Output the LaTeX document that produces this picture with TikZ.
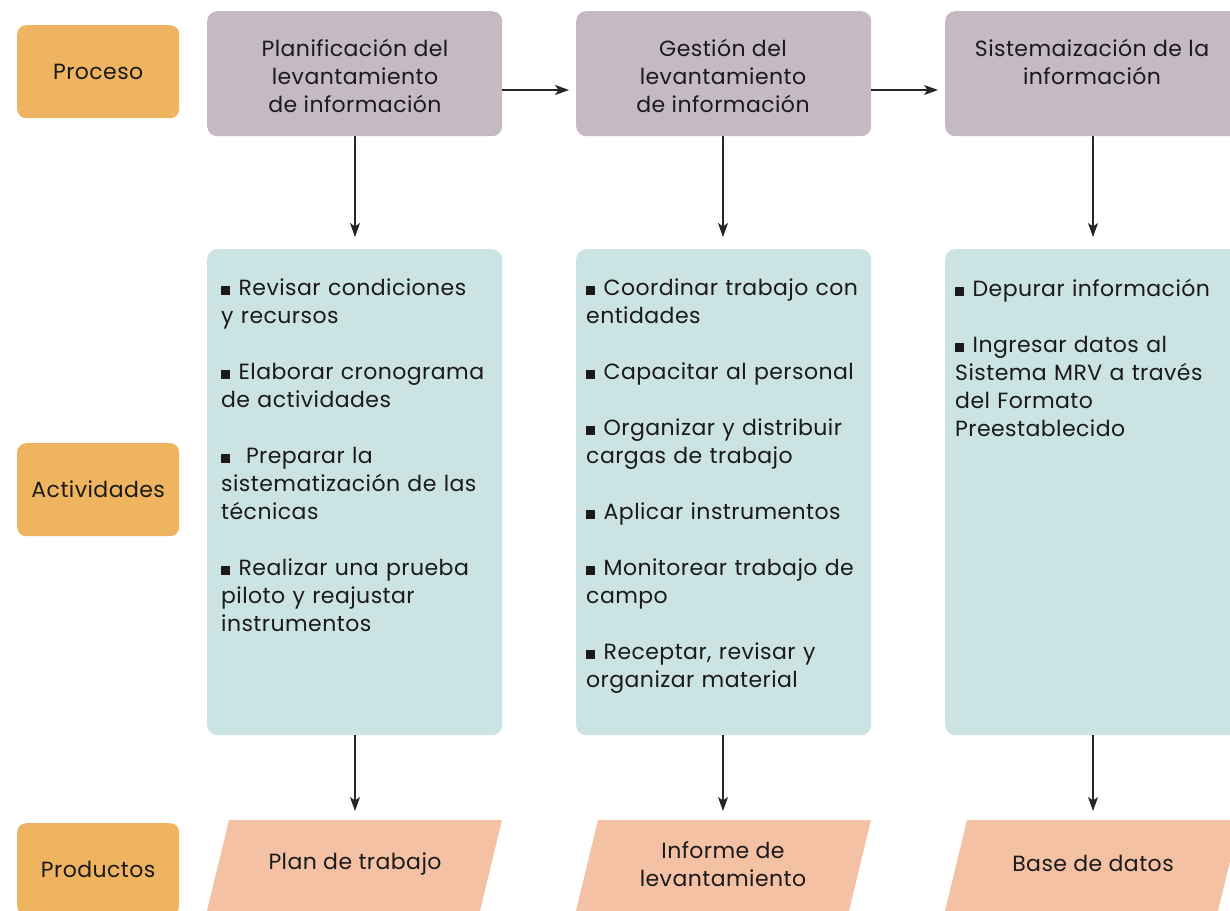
\documentclass[tikz,border=0pt]{standalone}
\usepackage{fontspec}
\setmainfont{Poppins}[LetterSpace=2]
\usetikzlibrary{arrows.meta,positioning,calc}
\definecolor{labelc}{HTML}{EEB460}
\definecolor{procc}{HTML}{C5B9C3}
\definecolor{actc}{HTML}{CBE3E2}
\definecolor{prodc}{HTML}{F5C1A5}
\definecolor{txtc}{HTML}{1A1A1A}
\newcommand{\bul}{\raisebox{1pt}{\rule{8.5pt}{8.5pt}}\hspace{9pt}}
\begin{document}
\begin{tikzpicture}[x=1pt,y=-1pt,
  every node/.style={text=txtc,font=\fontsize{22}{28}\selectfont,inner sep=0pt},
  labelbox/.style={fill=labelc,rounded corners=9pt,minimum width=162pt,anchor=north west},
  procbox/.style={fill=procc,rounded corners=10pt,minimum width=295pt,minimum height=125pt,anchor=north west},
  actbox/.style={fill=actc,rounded corners=10pt,minimum width=295pt,minimum height=486pt,anchor=north west},
  acttext/.style={align=left,anchor=north west,text width=285pt},
  conn/.style={draw=black!85,line width=1.1pt,-{Stealth[length=14pt,width=10pt,inset=3.5pt]}}
]
\useasboundingbox (0,0) rectangle (1230,910);
% row labels
\node[labelbox,minimum height=93pt] (lproc) at (17,25) {Proceso};
\node[labelbox,minimum height=93pt] (lact) at (17,443) {Actividades};
\node[labelbox,minimum height=92pt] (lprod) at (17,823) {Productos};
% process boxes
\node[procbox] (p1) at (207,11) {};
\node[align=center,anchor=north] (p1t) at (355,39) {Planificación del\\levantamiento\\de información};
\node[procbox] (p2) at (576,11) {};
\node[align=center,anchor=north] (p2t) at (723,39) {Gestión del\\levantamiento\\de información};
\node[procbox,minimum width=300pt] (p3) at (945,11) {};
\node[align=center,anchor=north] (p3t) at (1092,39) {Sistemaización de la\\información};
% activity boxes
\node[actbox] (a1) at (207,249) {};
\node[actbox] (a2) at (576,249) {};
\node[actbox,minimum width=300pt] (a3) at (945,249) {};
\node[acttext] (a1t) at (221,279) {\bul Revisar condiciones\\y recursos\\[28pt]\bul Elaborar cronograma\\de actividades\\[28pt]\bul\ Preparar la\\sistematización de las\\técnicas\\[28pt]\bul Realizar una prueba\\piloto y reajustar\\instrumentos};
\node[acttext] (a2t) at (586,279) {\bul Coordinar trabajo con\\entidades\\[28pt]\bul Capacitar al personal\\[28pt]\bul Organizar y distribuir\\cargas de trabajo\\[28pt]\bul Aplicar instrumentos\\[28pt]\bul Monitorear trabajo de\\campo\\[28pt]\bul Receptar, revisar y\\organizar material};
\node[acttext] (a3t) at (955,279) {\bul Depurar información\\[28pt]\bul Ingresar datos al\\Sistema MRV a través\\del Formato\\Preestablecido};
% product shapes
\fill[prodc] (229,820) -- (502,820) -- (479,915) -- (206,915) -- cycle;
\fill[prodc] (598,820) -- (871,820) -- (848,915) -- (575,915) -- cycle;
\fill[prodc] (967,820) -- (1240,820) -- (1217,915) -- (944,915) -- cycle;
\node[minimum width=250pt,minimum height=90pt,anchor=north] (r1) at (355,820) {};
\node[minimum width=250pt,minimum height=90pt,anchor=north] (r2) at (723,820) {};
\node[minimum width=250pt,minimum height=90pt,anchor=north] (r3) at (1093,820) {};
\node (r1t) at (355,864) {Plan de trabajo};
\node[align=center] (r2t) at (723,864) {Informe de\\levantamiento};
\node (r3t) at (1093,863) {Base de datos};
% connectors
\draw[conn,shorten >=7pt] (p1.east |- 0,90) -- (p2.west |- 0,90);
\draw[conn,shorten >=7pt] (p2.east |- 0,90) -- (p3.west |- 0,90);
\draw[conn,shorten >=12pt] (p1.south -| 355,0) -- (a1.north -| 355,0);
\draw[conn,shorten >=12pt] (p2.south -| 723,0) -- (a2.north -| 723,0);
\draw[conn,shorten >=12pt] (p3.south -| 1093,0) -- (a3.north -| 1093,0);
\draw[conn,shorten >=9pt] (a1.south -| 355,0) -- (r1.north);
\draw[conn,shorten >=9pt] (a2.south -| 723,0) -- (r2.north);
\draw[conn,shorten >=9pt] (a3.south -| 1093,0) -- (r3.north);
\end{tikzpicture}
\end{document}
